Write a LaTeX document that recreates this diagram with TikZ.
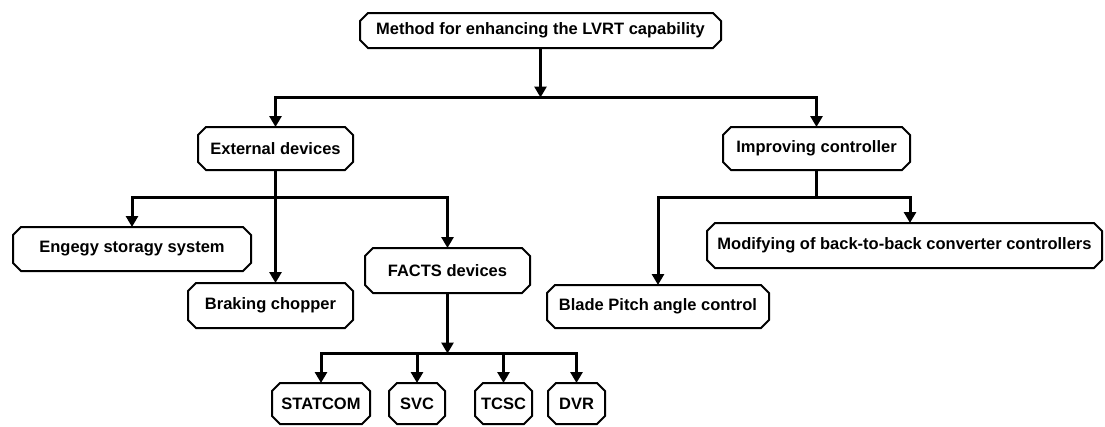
\documentclass[tikz,border=0pt]{standalone}
\usepackage{fontspec}
\setmainfont{Liberation Sans}
\usetikzlibrary{arrows.meta,calc}
\tikzset{
  box/.style={rectangle, draw=none, outer sep=0pt, inner sep=0pt, align=center,
    font=\fontsize{16.5}{19}\selectfont\bfseries},
  boxline/.style={line width=2pt, line join=miter},
  conn/.style={line width=3pt},
  arr/.style={line width=3pt, -{Triangle[length=11pt,width=12pt]}},
}
\begin{document}
\begin{tikzpicture}[x=1pt,y=-1pt]
\useasboundingbox (0,0) rectangle (1105,426);
% nodes
\node[box, minimum width=361pt, minimum height=35pt] (top) at (540.5,30.5) {Method for enhancing the LVRT capability};
\node[box, minimum width=155pt, minimum height=43pt] (ext) at (275.5,148.5) {External devices};
\node[box, minimum width=187pt, minimum height=43pt] (imp) at (816.5,148.5) {Improving controller};
\node[box, minimum width=238pt, minimum height=44pt] (ess) at (132,249) {Engegy storagy system};
\node[box, minimum width=165pt, minimum height=45pt] (brk) at (270.5,305.5) {Braking chopper};
\node[box, minimum width=165pt, minimum height=45pt] (facts) at (447.5,270.5) {FACTS devices};
\node[box, minimum width=395pt, minimum height=45pt] (mod) at (904.5,245.5) {Modifying of back-to-back converter controllers};
\node[box, minimum width=222pt, minimum height=43pt] (blade) at (658,306.5) {Blade Pitch angle control};
\node[box, minimum width=98pt, minimum height=41pt] (statcom) at (321,403.5) {STATCOM};
\node[box, minimum width=56pt, minimum height=41pt] (svc) at (417,403.5) {SVC};
\node[box, minimum width=57pt, minimum height=41pt] (tcsc) at (503.5,403.5) {TCSC};
\node[box, minimum width=57pt, minimum height=41pt] (dvr) at (576.5,403.5) {DVR};
% octagonal outlines
\foreach \n in {top,ext,imp,ess,brk,facts,mod,blade,statcom,svc,tcsc,dvr}{
  \draw[boxline] ($(\n.north west)+(8,0)$) -- ($(\n.north east)+(-8,0)$)
    -- ($(\n.north east)+(0,8)$) -- ($(\n.south east)+(0,-8)$)
    -- ($(\n.south east)+(-8,0)$) -- ($(\n.south west)+(8,0)$)
    -- ($(\n.south west)+(0,-8)$) -- ($(\n.north west)+(0,8)$) -- cycle;
}
% junctions
\coordinate (j1) at (540.5,97.5);
\coordinate (j2) at (275.5,197);
\coordinate (j3) at (816.5,197);
\coordinate (j4) at (447.5,353.5);
% connectors
\draw[arr] (top.south) -- (j1);
\draw[arr] (j1) -| (ext.north);
\draw[arr] (j1) -| (imp.north);
\draw[arr] (ext.south) -- (ext.south |- brk.north);
\draw[arr] (j2) -| (ess.north);
\draw[arr] (j2) -| (facts.north);
\draw[conn] (imp.south) -- (j3);
\draw[arr] (j3) -| (blade.north);
\draw[arr] (j3) -| ($(mod.north)+(5.5,0)$);
\draw[arr] (facts.south) -- (j4);
\draw[arr] (j4) -| (statcom.north);
\draw[arr] (j4) -| (svc.north);
\draw[arr] (j4) -| (tcsc.north);
\draw[arr] (j4) -| (dvr.north);
\end{tikzpicture}
\end{document}
